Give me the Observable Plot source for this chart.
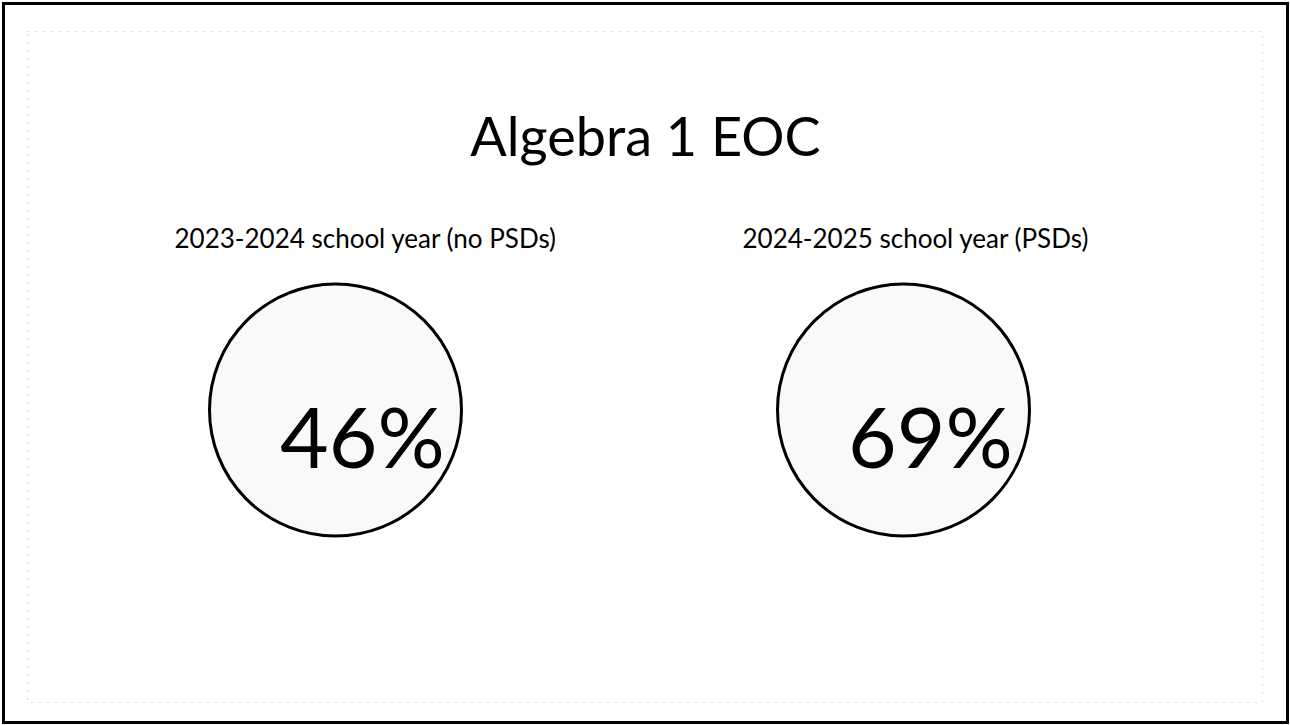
<!DOCTYPE html>
<html>
<head>
<meta charset="utf-8">
<script src="https://cdn.jsdelivr.net/npm/d3@7"></script>
<script src="https://cdn.jsdelivr.net/npm/@observablehq/plot@0.6"></script>
<style>
  html, body { margin: 0; padding: 0; background: #fff; }
  svg { display: block; }
</style>
</head>
<body>
<div id="chart"></div>
<script>
// ---- data ----
const chartTitle = "Algebra 1 EOC";
const years = ["2023-2024 school year (no PSDs)", "2024-2025 school year (PSDs)"];
const rates = [46, 69];

const rows = years.map((year, i) => ({year, rate: rates[i]}));

const font = "Lato, 'Open Sans', sans-serif";

const chart = Plot.plot({
  width: 1290,
  height: 725,
  margin: 0,
  style: {fontFamily: font, background: "#fff", color: "#000"},
  x: {type: "point", domain: years, range: [335, 903], padding: 0, axis: null},
  marks: [
    // outer border
    Plot.frame({stroke: "#000", strokeWidth: 3, inset: 3}),
    // faint dotted inner border
    Plot.frame({stroke: "#b5b5b5", strokeWidth: 1, strokeDasharray: "1,7",
      insetLeft: 27, insetTop: 31, insetRight: 28, insetBottom: 23}),
    // title
    Plot.text([chartTitle], {frameAnchor: "top", lineAnchor: "bottom", dy: 155,
      text: d => d, fontSize: 54, fill: "#000"}),
    // subtitles
    Plot.text(rows, {x: "year", frameAnchor: "top", lineAnchor: "bottom", dy: 247,
      text: "year", textAnchor: "start", dx: -161, fontSize: 26, fill: "#000"}),
    // circles
    Plot.dot(rows, {x: "year", r: 126, dy: 47, stroke: "#000", strokeWidth: 3, fill: "#f9f9f9"}),
    // percentages
    Plot.text(rows, {x: "year", frameAnchor: "middle", lineAnchor: "bottom", dy: 105, dx: 27,
      text: d => d.rate + "%", fontSize: 84, fill: "#000"})
  ]
});

document.getElementById("chart").append(chart);
</script>
</body>
</html>
